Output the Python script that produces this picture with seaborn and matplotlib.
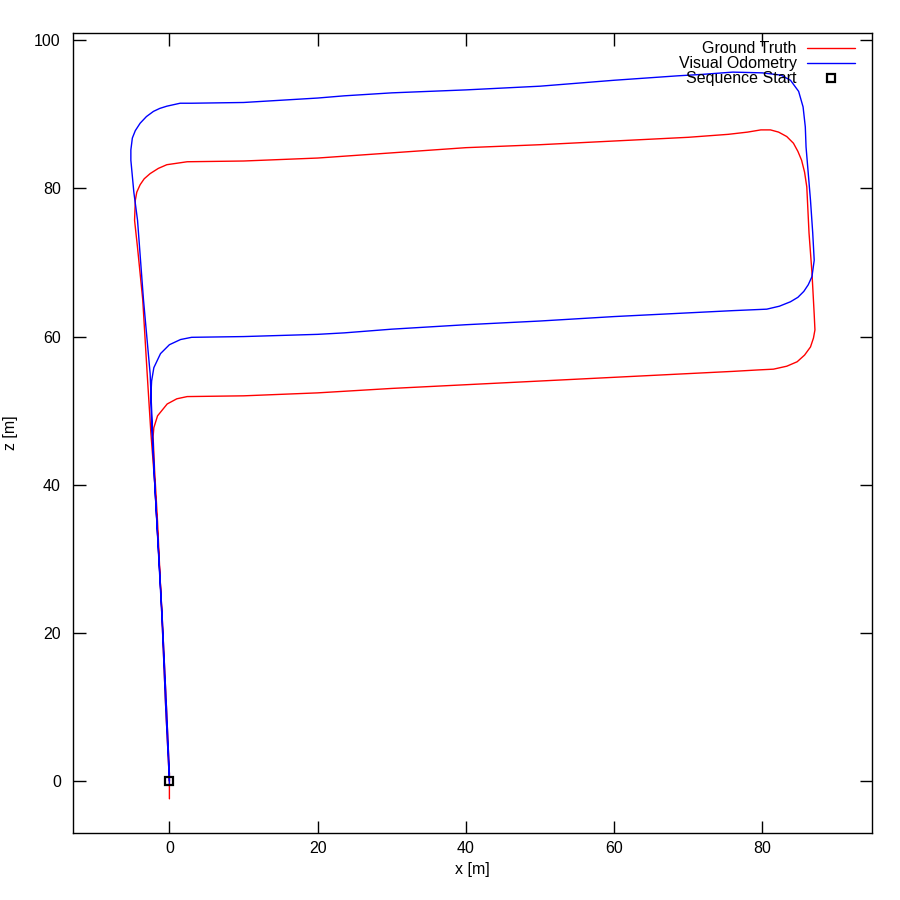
import numpy as np
import pandas as pd
import matplotlib
matplotlib.use("Agg")
import matplotlib.pyplot as plt
import seaborn as sns

# Ground truth trajectory (x, z) in metres
gt_x = [0.0, -0.5, -1.0, -1.6, -2.0, -2.2, -2.1, -1.6, -0.3, 1.0, 2.4,
        10.0, 20.0, 30.0, 40.0, 50.0, 60.0, 70.0, 76.0, 79.5, 81.5, 83.3, 84.7, 85.7, 86.5, 86.9, 87.1,
        87.0, 86.7, 86.3, 86.0, 85.7, 85.3, 84.8, 84.2, 83.3, 82.2, 81.1, 79.8, 78.0, 75.4,
        70.0, 60.0, 50.0, 40.0, 30.0, 20.0, 10.0, 2.4, -0.35, -1.5, -2.6, -3.4, -3.95, -4.4, -4.6, -4.7,
        -4.3, -3.6, -3.0, -2.5, -2.0, -1.0, -0.4, 0.0, 0.0]
gt_z = [0.0, 10.0, 22.0, 35.0, 42.0, 46.5, 47.7, 49.3, 50.9, 51.6, 51.9,
        52.0, 52.4, 53.0, 53.5, 54.0, 54.5, 55.0, 55.3, 55.5, 55.6, 56.0, 56.6, 57.5, 58.6, 59.8, 60.9,
        63.0, 68.6, 74.0, 80.2, 82.2, 83.8, 85.0, 86.1, 87.0, 87.6, 87.9, 87.9, 87.6, 87.3,
        86.9, 86.4, 85.9, 85.5, 84.8, 84.1, 83.7, 83.6, 83.2, 82.7, 82.0, 81.3, 80.5, 79.5, 78.4, 75.7,
        72.0, 65.0, 55.0, 47.0, 40.5, 22.7, 10.0, 1.0, -2.4]

# Visual odometry trajectory (x, z) in metres
vo_x = [0.0, -0.5, -1.0, -2.0, -2.4, -2.5, -2.4, -2.1, -1.2, 0.0, 1.5, 3.0,
        10.0, 20.0, 23.6, 30.0, 40.0, 50.0, 60.0, 70.0, 76.0, 80.6, 82.3, 83.8, 84.8, 85.6, 86.2, 86.7, 87.0,
        86.8, 86.5, 86.2, 85.9, 85.8, 85.5, 84.9, 83.8, 82.5, 80.0, 76.0, 72.0, 68.6,
        60.0, 50.0, 40.0, 30.0, 23.6, 20.0, 10.0, 3.0, 1.45, -0.35, -1.3, -2.15, -3.1, -3.95, -4.6, -5.0, -5.2,
        -5.2, -4.8, -4.3, -3.5, -2.6, -2.0, -1.0, -0.4, 0.0, 0.0]
vo_z = [0.0, 10.0, 22.0, 40.5, 48.0, 52.0, 54.0, 55.8, 57.7, 58.9, 59.6, 59.9,
        60.0, 60.3, 60.5, 61.0, 61.6, 62.1, 62.7, 63.2, 63.5, 63.7, 64.1, 64.7, 65.3, 66.1, 67.0, 68.1, 70.3,
        74.0, 78.4, 82.0, 85.6, 88.3, 91.0, 93.1, 94.6, 95.3, 95.6, 95.7, 95.4, 95.2,
        94.6, 93.8, 93.3, 92.9, 92.5, 92.2, 91.6, 91.5, 91.5, 91.1, 90.8, 90.4, 89.7, 88.8, 87.8, 86.8, 85.2,
        83.8, 79.5, 75.7, 65.0, 55.0, 40.5, 22.7, 10.0, 1.0, -0.5]

start_x = [0.0]
start_z = [0.0]

series_names = ["Ground Truth", "Visual Odometry", "Sequence Start"]
x_ticks = [0, 20, 40, 60, 80]
z_ticks = [0, 20, 40, 60, 80, 100]

sns.set_theme(style="white")
plt.rcParams["font.family"] = ["Liberation Sans", "DejaVu Sans"]
plt.rcParams["text.color"] = "black"
plt.rcParams["axes.labelcolor"] = "black"
plt.rcParams["xtick.color"] = "black"
plt.rcParams["ytick.color"] = "black"

fig = plt.figure(figsize=(9, 9), dpi=100)
ax = fig.add_axes([0.0815, 0.0744, 0.8874, 0.8886])

gt = pd.DataFrame({"x": gt_x, "z": gt_z})
vo = pd.DataFrame({"x": vo_x, "z": vo_z})
st = pd.DataFrame({"x": start_x, "z": start_z})

sns.lineplot(data=gt, x="x", y="z", sort=False, estimator=None, color="#ff0000",
             linewidth=1.0, ax=ax, label=series_names[0])
sns.lineplot(data=vo, x="x", y="z", sort=False, estimator=None, color="#0000ff",
             linewidth=1.0, ax=ax, label=series_names[1])
ax.plot(st["x"], st["z"], linestyle="none", marker="s", markersize=5.5,
        markerfacecolor="none", markeredgecolor="black", markeredgewidth=1.6,
        label=series_names[2], zorder=5)

ax.set_xlim(-12.96, 94.8)
ax.set_ylim(-7.02, 100.94)
ax.set_xticks(x_ticks)
ax.set_yticks(z_ticks)
ax.set_xlabel("x [m]", fontsize=11.5, labelpad=4, color="black")
ax.set_ylabel("z [m]", fontsize=11.5, color="black")
ax.yaxis.set_label_coords(-0.069, 0.5)

for s in ax.spines.values():
    s.set_visible(True)
    s.set_color("black")
    s.set_linewidth(1.0)
ax.tick_params(axis="both", direction="in", length=9, width=1.0, colors="black",
               labelsize=11.5, top=True, right=True, bottom=True, left=True)
ax.tick_params(axis="x", pad=6)
ax.tick_params(axis="y", pad=9)
ax.grid(False)

leg = ax.legend(loc="upper right", bbox_to_anchor=(0.9865, 0.998), frameon=False,
                markerfirst=False, handlelength=3.0, handletextpad=0.65,
                labelspacing=0.0, fontsize=11.5, borderaxespad=0.0)
for t in leg.get_texts():
    t.set_color("black")

fig.savefig("out.png", dpi=100, facecolor="white")
